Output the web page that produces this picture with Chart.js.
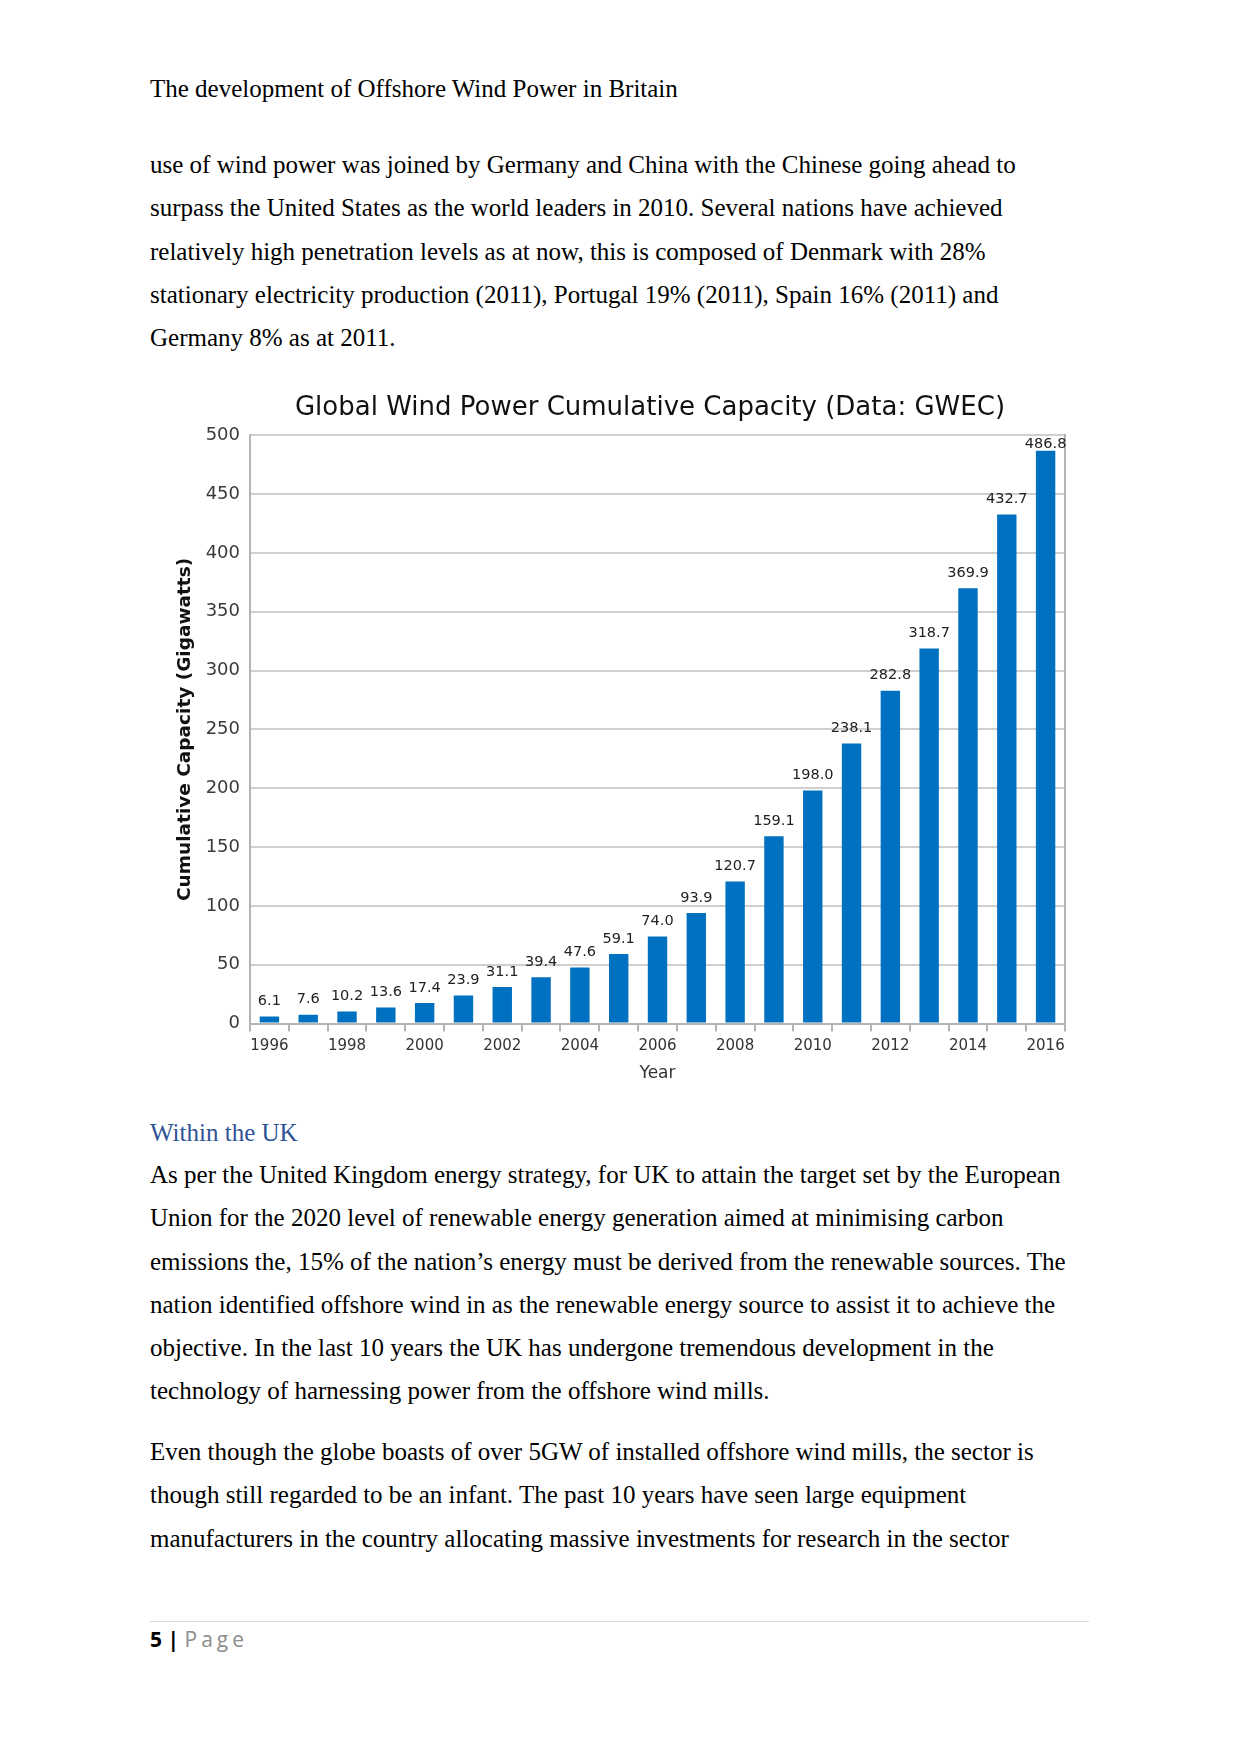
<!DOCTYPE html>
<html>
<head>
<meta charset="utf-8">
<script src="https://cdn.jsdelivr.net/npm/chart.js@4.4.1/dist/chart.umd.min.js"></script>
<style>
  html, body { margin: 0; padding: 0; background: #fff; }
  body { width: 1241px; height: 1754px; position: relative; overflow: hidden; }
  .t { position: absolute; left: 150px; font-family: "Liberation Serif", "Times New Roman", serif; font-size: 25px; color: #000; white-space: nowrap; line-height: 43.3px; }
  #chartBox { position: absolute; left: 150px; top: 380px; width: 1000px; height: 708px; }
  .foot { position: absolute; left: 150px; top: 1624px; font-family: "Open Sans", "Liberation Sans", sans-serif; font-size: 21px; line-height: 30px; white-space: nowrap; }
  .rule { position: absolute; left: 150px; width: 939px; top: 1621px; height: 1px; background: #d9d9d9; }
</style>
</head>
<body>
<div class="t" style="top:67px;">The development of Offshore Wind Power in Britain</div>
<div class="t" style="top:143px;">use of wind power was joined by Germany and China with the Chinese going ahead to<br>surpass the United States as the world leaders in 2010. Several nations have achieved<br>relatively high penetration levels as at now, this is composed of Denmark with 28%<br>stationary electricity production (2011), Portugal 19% (2011), Spain 16% (2011) and<br>Germany 8% as at 2011.</div>

<div id="chartBox"><canvas id="c"></canvas></div>

<div class="t" style="top:1111px; color:#2f5496;">Within the UK</div>
<div class="t" style="top:1153px;">As per the United Kingdom energy strategy, for UK to attain the target set by the European<br>Union for the 2020 level of renewable energy generation aimed at minimising carbon<br>emissions the, 15% of the nation’s energy must be derived from the renewable sources. The<br>nation identified offshore wind in as the renewable energy source to assist it to achieve the<br>objective. In the last 10 years the UK has undergone tremendous development in the<br>technology of harnessing power from the offshore wind mills.</div>
<div class="t" style="top:1430px;">Even though the globe boasts of over 5GW of installed offshore wind mills, the sector is<br>though still regarded to be an infant. The past 10 years have seen large equipment<br>manufacturers in the country allocating massive investments for research in the sector</div>

<div class="rule"></div>
<div class="foot"><b>5 |</b> <span style="color:#8c8c8c; letter-spacing:4px;">Page</span></div>

<script>
const years = ["1996","1997","1998","1999","2000","2001","2002","2003","2004","2005","2006","2007","2008","2009","2010","2011","2012","2013","2014","2015","2016"];
const capacityGW = [6.1, 7.6, 10.2, 13.6, 17.4, 23.9, 31.1, 39.4, 47.6, 59.1, 74.0, 93.9, 120.7, 159.1, 198.0, 238.1, 282.8, 318.7, 369.9, 432.7, 486.8];
const yTicks = [0, 50, 100, 150, 200, 250, 300, 350, 400, 450, 500];

const chartTitle = "Global Wind Power Cumulative Capacity (Data: GWEC)";
const yTitle = "Cumulative Capacity (Gigawatts)";
const xTitle = "Year";

const valueLabels = {
  id: 'valueLabels',
  afterDatasetsDraw(chart) {
    const ctx = chart.ctx;
    const meta = chart.getDatasetMeta(0);
    const area = chart.chartArea;
    ctx.save();
    ctx.font = '14.5px "DejaVu Sans"';
    ctx.fillStyle = '#222';
    ctx.textAlign = 'center';
    ctx.textBaseline = 'bottom';
    meta.data.forEach((bar, i) => {
      const v = chart.data.datasets[0].data[i];
      let y = Math.max(bar.y - 8, area.top + 16);
      ctx.fillText(v.toFixed(1), bar.x, y);
    });
    ctx.restore();
  }
};

new Chart(document.getElementById('c'), {
  type: 'bar',
  data: {
    labels: years,
    datasets: [{
      data: capacityGW,
      backgroundColor: '#0070c0',
      borderWidth: 0,
      categoryPercentage: 1.0,
      barPercentage: 0.5
    }]
  },
  options: {
    responsive: true,
    maintainAspectRatio: false,
    animation: false,
    layout: { padding: 0 },
    plugins: {
      legend: { display: false },
      tooltip: { enabled: false },
      title: {
        display: true,
        text: chartTitle,
        color: '#111',
        font: { family: 'DejaVu Sans', size: 26, weight: 'normal' },
        padding: { top: 13, bottom: 11 }
      }
    },
    scales: {
      x: {
        offset: true,
        grid: { offset: true, drawOnChartArea: false, drawTicks: true, tickLength: 8, color: '#b4b4b4', lineWidth: 2 },
        border: { display: true, color: '#b4b4b4', width: 2 },
        ticks: {
          autoSkip: false,
          maxRotation: 0,
          padding: 6,
          color: '#333',
          font: { family: 'DejaVu Sans', size: 15 },
          callback: function(val, idx) { const y = years[idx]; return (parseInt(y) % 2 === 0) ? y : ''; }
        },
        title: { display: true, text: xTitle, color: '#333', font: { family: 'DejaVu Sans', size: 17 }, padding: { top: 2, bottom: 4 } }
      },
      y: {
        min: 0, max: 500,
        afterBuildTicks: (s) => { s.ticks = yTicks.map(v => ({ value: v })); },
        afterFit: (s) => { s.width = 100; },
        grid: { drawTicks: false, color: '#cfcfcf', lineWidth: 2 },
        border: { display: true, color: '#b4b4b4', width: 2 },
        ticks: { padding: 10, color: '#3a3a3a', font: { family: 'DejaVu Sans', size: 18 } },
        title: { display: true, text: yTitle, color: '#111', font: { family: 'DejaVu Sans', size: 18.5, weight: 'bold' }, padding: { top: 24, bottom: 0 } }
      },
      y2: {
        position: 'right',
        min: 0, max: 500,
        afterFit: (s) => { s.width = 85; },
        grid: { display: false, drawOnChartArea: false },
        border: { display: true, color: '#b4b4b4', width: 2 },
        ticks: { display: false }
      }
    }
  },
  plugins: [valueLabels]
});
</script>
</body>
</html>
